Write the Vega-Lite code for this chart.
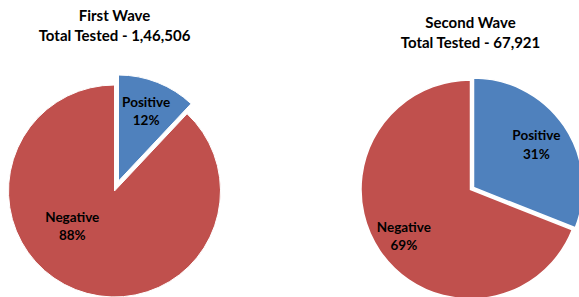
{
  "$schema": "https://vega.github.io/schema/vega-lite/v6.json",
  "background": "white",
  "padding": {"top": 9, "left": 0, "right": 0, "bottom": 0},
  "config": {
    "view": {"stroke": null},
    "title": {"font": "Lato", "fontSize": 15, "fontWeight": "bold", "color": "#000000", "lineHeight": 20, "anchor": "middle"},
    "text": {"font": "Lato", "fontSize": 13.5, "fontWeight": "bold", "color": "#000000", "lineHeight": 18.5, "lineBreak": "\n", "baseline": "middle", "align": "center"}
  },
  "datasets": {
    "tests": [
      {"wave": "First Wave", "category": "Positive", "share": 12},
      {"wave": "First Wave", "category": "Negative", "share": 88},
      {"wave": "Second Wave", "category": "Positive", "share": 31},
      {"wave": "Second Wave", "category": "Negative", "share": 69}
    ]
  },
  "spacing": 129,
  "hconcat": [
    {
      "width": 229,
      "height": 212,
      "title": {"text": ["First Wave", "Total Tested - 1,46,506"], "offset": 29},
      "data": {"name": "tests"},
      "transform": [
        {"filter": "datum.wave === 'First Wave'"},
        {"calculate": "datum.category + '\\n' + datum.share + '%'", "as": "label"}
      ],
      "encoding": {
        "theta": {"field": "share", "type": "quantitative", "stack": true},
        "order": {"field": "category", "sort": "descending"},
        "color": {"field": "category", "type": "nominal", "scale": {"domain": ["Positive", "Negative"], "range": ["#4F81BD", "#C0504D"]}, "legend": null}
      },
      "layer": [
        {
          "mark": {"type": "arc", "outerRadius": 106, "stroke": "white", "strokeWidth": 1},
          "encoding": {"opacity": {"condition": {"test": "datum.category === 'Negative'", "value": 1}, "value": 0}}
        },
        {
          "mark": {"type": "arc", "outerRadius": 106, "stroke": "white", "strokeWidth": 1, "xOffset": 4, "yOffset": -10},
          "encoding": {"opacity": {"condition": {"test": "datum.category === 'Positive'", "value": 1}, "value": 0}}
        },
        {
          "mark": {"type": "text", "radius": 75, "dx": 4, "dy": -18.5},
          "encoding": {
            "text": {"field": "label"},
            "color": {"value": "#000000"},
            "opacity": {"condition": {"test": "datum.category === 'Positive'", "value": 1}, "value": 0}
          }
        },
        {
          "mark": {"type": "text", "radius": 55, "dx": -22, "dy": -24.5},
          "encoding": {
            "text": {"field": "label"},
            "color": {"value": "#000000"},
            "opacity": {"condition": {"test": "datum.category === 'Negative'", "value": 1}, "value": 0}
          }
        }
      ]
    },
    {
      "width": 221,
      "height": 209,
      "title": {"text": ["Second Wave", "Total Tested - 67,921"], "offset": 24},
      "data": {"name": "tests"},
      "transform": [
        {"filter": "datum.wave === 'Second Wave'"},
        {"calculate": "datum.category + '\\n' + datum.share + '%'", "as": "label"}
      ],
      "encoding": {
        "theta": {"field": "share", "type": "quantitative", "stack": true},
        "order": {"field": "category", "sort": "descending"},
        "color": {"field": "category", "type": "nominal", "scale": {"domain": ["Positive", "Negative"], "range": ["#4F81BD", "#C0504D"]}, "legend": null}
      },
      "layer": [
        {
          "mark": {"type": "arc", "outerRadius": 109.5, "stroke": "white", "strokeWidth": 1.5},
          "encoding": {"opacity": {"condition": {"test": "datum.category === 'Negative'", "value": 1}, "value": 0}}
        },
        {
          "mark": {"type": "arc", "outerRadius": 109.5, "stroke": "white", "strokeWidth": 1.5, "xOffset": 3, "yOffset": -2},
          "encoding": {"opacity": {"condition": {"test": "datum.category === 'Positive'", "value": 1}, "value": 0}}
        },
        {
          "mark": {"type": "text", "radius": 76, "dx": 3, "dy": -10.5},
          "encoding": {
            "text": {"field": "label"},
            "color": {"value": "#000000"},
            "opacity": {"condition": {"test": "datum.category === 'Positive'", "value": 1}, "value": 0}
          }
        },
        {
          "mark": {"type": "text", "radius": 83, "dx": 2, "dy": -8.5},
          "encoding": {
            "text": {"field": "label"},
            "color": {"value": "#000000"},
            "opacity": {"condition": {"test": "datum.category === 'Negative'", "value": 1}, "value": 0}
          }
        }
      ]
    }
  ]
}
